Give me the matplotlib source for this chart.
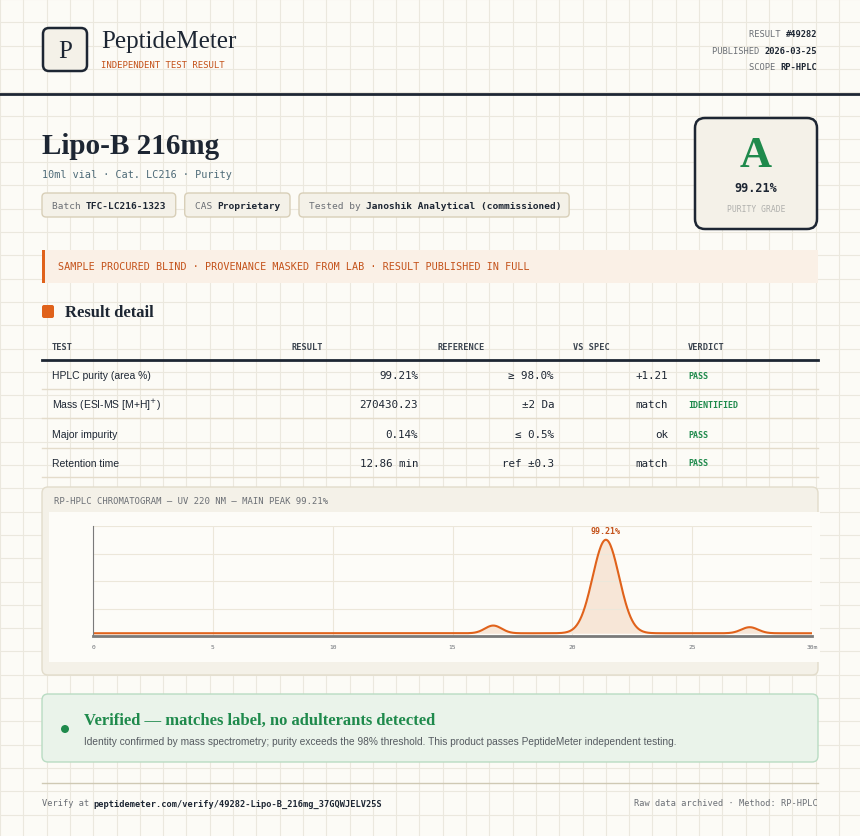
import numpy as np
import matplotlib.pyplot as plt
from matplotlib.patches import FancyBboxPatch, Rectangle, Circle

# ---- data ----
brand = "PeptideMeter"
product = "Lipo-B 216mg"
result_id = "#49282"
published = "2026-03-25"
scope = "RP-HPLC"
grade = "A"
purity_txt = "99.21%"

cols = ["TEST", "RESULT", "REFERENCE", "VS SPEC", "VERDICT"]
tests = ["HPLC purity (area %)", "Mass (ESI-MS [M+H]$^{+}$)", "Major impurity", "Retention time"]
results = ["99.21%", "270430.23", "0.14%", "12.86 min"]
refs = ["≥ 98.0%", "±2 Da", "≤ 0.5%", "ref ±0.3"]
vs_spec = ["+1.21", "match", "ok", "match"]
verdicts = ["PASS", "IDENTIFIED", "PASS", "PASS"]

# chromatogram peaks: retention time (min), height (% full scale), sigma (min)
peak_rt = [16.7, 21.4, 27.4]
peak_h = [7.0, 85.0, 5.5]
peak_sd = [0.35, 0.55, 0.35]
baseline = 2.5
x_ticks = [0, 5, 10, 15, 20, 25, 30]

BG = "#fcfbf6"
INK = "#1d2633"
ORANGE = "#e0621b"
GREEN = "#1f8a4c"
GREY = "#6b6f75"
MONO = ["DejaVu Sans Mono"]
SERIF = ["Liberation Serif", "DejaVu Serif"]
SANS = ["Liberation Sans", "DejaVu Sans"]

fig = plt.figure(figsize=(8.6, 8.37), dpi=100, facecolor=BG)
ax = fig.add_axes([0, 0, 1, 1])
ax.set_xlim(0, 860)
ax.set_ylim(837, 0)
ax.axis("off")

# background grid
for gx in np.arange(0, 860, 23.3):
    ax.axvline(gx, color="#ebe8de", lw=0.8, zorder=0)
for gy in np.arange(0, 837, 23.3):
    ax.axhline(gy, color="#ebe8de", lw=0.8, zorder=0)


def rbox(x, y, w, h, fc, ec, lw=1, r=4, z=1):
    ax.add_patch(FancyBboxPatch((x, y), w, h, boxstyle=f"round,pad=0,rounding_size={r}",
                                fc=fc, ec=ec, lw=lw, zorder=z))


def cw(fs):  # mono char width in px
    return 0.602 * fs * 100 / 72


# header
rbox(43, 29, 44, 43, "#f4f1e8", INK, lw=1.8, r=6)
ax.text(65, 52, "P", family=SERIF, fontsize=18, color=INK, ha="center", va="center", zorder=3)
ax.text(101, 42, brand, family=SERIF, fontsize=18, color=INK, va="center")
ax.text(101, 65, "INDEPENDENT TEST RESULT", family=MONO, fontsize=6.5, color="#c4521a", va="center")
meta = [("RESULT ", result_id, 34), ("PUBLISHED ", published, 51), ("SCOPE ", scope, 67)]
for lab, val, yy in meta:
    ax.text(817, yy, val, family=MONO, fontsize=6.3, weight="bold", color=INK, ha="right", va="center")
    ax.text(817 - cw(6.3) * len(val), yy, lab, family=MONO, fontsize=6.3, color=GREY, ha="right", va="center")
ax.plot([0, 860], [95, 95], color=INK, lw=2)

# product title
ax.text(42, 146, product, family=SERIF, fontsize=21, weight="bold", color=INK, va="center")
ax.text(42, 175, "10ml vial · Cat. LC216 · Purity", family=MONO, fontsize=7.3, color="#4e6b78", va="center")
x0 = 42
for lab, val in [("Batch ", "TFC-LC216-1323"), ("CAS ", "Proprietary"), ("Tested by ", "Janoshik Analytical (commissioned)")]:
    w = cw(6.8) * (len(lab) + len(val)) + 20
    rbox(x0, 194, w, 24, "#f4f1e8", "#d8cfb8", lw=1, r=4)
    ax.text(x0 + 10, 206, lab, family=MONO, fontsize=6.8, color=GREY, va="center")
    ax.text(x0 + 10 + cw(6.8) * len(lab), 206, val, family=MONO, fontsize=6.8, weight="bold", color=INK, va="center")
    x0 += w + 9

# grade box
rbox(695, 119, 122, 111, "#f4f1e8", INK, lw=1.8, r=10)
ax.text(756, 156, grade, family=SERIF, fontsize=32, weight="bold", color=GREEN, ha="center", va="center")
ax.text(756, 188, purity_txt, family=MONO, fontsize=8.5, weight="bold", color=INK, ha="center", va="center")
ax.text(756, 209, "PURITY GRADE", family=MONO, fontsize=5.8, color="#b0b0ad", ha="center", va="center")

# notice banner
ax.add_patch(Rectangle((42, 251), 776, 33, fc="#faf0e6", ec="none", zorder=1))
ax.add_patch(Rectangle((42, 251), 3, 33, fc=ORANGE, ec="none", zorder=2))
ax.text(58, 267, "SAMPLE PROCURED BLIND · PROVENANCE MASKED FROM LAB · RESULT PUBLISHED IN FULL",
        family=MONO, fontsize=7.3, color="#c4521a", va="center", zorder=3)

# result detail
rbox(42, 306, 12, 13, ORANGE, "none", r=2, z=2)
ax.text(65, 313, "Result detail", family=SERIF, fontsize=12, weight="bold", color=INK, va="center")
head_x = [52, 292, 437, 573, 688]
for c, hx in zip(cols, head_x):
    ax.text(hx, 347, c, family=MONO, fontsize=6.2, weight="bold", color="#3c4550", va="center")
ax.plot([42, 818], [361, 361], color=INK, lw=2)
row_y = [376, 405, 435, 464]
for i, yy in enumerate(row_y):
    ax.text(52, yy, tests[i], family=SANS, fontsize=7.5, color=INK, va="center")
    ax.text(418, yy, results[i], family=MONO, fontsize=7.8, color=INK, ha="right", va="center")
    ax.text(554, yy, refs[i], family=MONO, fontsize=7.8, color=INK, ha="right", va="center")
    ax.text(668, yy, vs_spec[i], family=MONO, fontsize=7.8, color=INK, ha="right", va="center")
    ax.text(688, yy, verdicts[i], family=MONO, fontsize=6, weight="bold", color=GREEN, va="center")
    ax.plot([42, 818], [yy + 14, yy + 14], color="#e4dccb", lw=1)

# chromatogram panel
rbox(42, 488, 776, 188, "#f4f1e8", "#e2dccb", lw=1, r=6)
ax.add_patch(Rectangle((49, 513), 771, 150, fc="#fdfcf8", ec="none", zorder=2))
ax.text(54, 502, "RP-HPLC CHROMATOGRAM — UV 220 NM — MAIN PEAK 99.21%",
        family=MONO, fontsize=6.4, color=GREY, va="center", zorder=3)

cax = fig.add_axes([93 / 860, 1 - 637 / 837, 719 / 860, 110 / 837])
cax.set_facecolor("none")
t = np.linspace(0, 30, 900)
sig = np.full_like(t, baseline)
for rt, h, sd in zip(peak_rt, peak_h, peak_sd):
    sig = sig + h * np.exp(-0.5 * ((t - rt) / sd) ** 2)
cax.fill_between(t, baseline, sig, color="#f7e4d4", alpha=0.9, lw=0)
cax.plot(t, sig, color=ORANGE, lw=1.5)
cax.set_xlim(0, 30)
cax.set_ylim(0, 100)
cax.set_xticks(x_ticks)
cax.set_xticklabels([str(v) for v in x_ticks[:-1]] + ["30m"], family=MONO, fontsize=4.5, color=GREY)
cax.set_yticks([25, 50, 75, 100])
cax.set_yticklabels([])
cax.tick_params(length=0, pad=6)
cax.grid(color="#ece7da", lw=0.8)
for s in ["top", "right"]:
    cax.spines[s].set_visible(False)
cax.spines["left"].set_color("#7a7a7a")
cax.spines["bottom"].set_color("#7a7a7a")
cax.spines["bottom"].set_linewidth(2)
imax = int(np.argmax(sig))
cax.annotate(purity_txt, (t[imax], sig[imax]), xytext=(0, 5), textcoords="offset points",
             ha="center", family=MONO, fontsize=6, weight="bold", color="#c4521a")

# verified banner
rbox(42, 695, 776, 68, "#eaf3ea", "#b9dcc3", lw=1, r=6)
ax.add_patch(Circle((65, 730), 4, fc=GREEN, ec="none", zorder=3))
ax.text(84, 721, "Verified — matches label, no adulterants detected", family=SERIF, fontsize=12,
        weight="bold", color=GREEN, va="center", zorder=3)
ax.text(84, 742, "Identity confirmed by mass spectrometry; purity exceeds the 98% threshold. "
        "This product passes PeptideMeter independent testing.", family=SANS, fontsize=7.3,
        color="#555a60", va="center", zorder=3)

# footer
ax.plot([42, 818], [784, 784], color="#cfc9b4", lw=1)
ax.text(42, 804, "Verify at ", family=MONO, fontsize=6.2, color=GREY, va="center")
ax.text(42 + cw(6.2) * 10, 804, "peptidemeter.com/verify/49282-Lipo-B_216mg_37GQWJELV25S",
        family=MONO, fontsize=6.2, weight="bold", color=INK, va="center")
ax.text(818, 804, "Raw data archived · Method: RP-HPLC", family=MONO, fontsize=6.2, color=GREY,
        ha="right", va="center")

fig.savefig("out.png", dpi=100, facecolor=BG)
